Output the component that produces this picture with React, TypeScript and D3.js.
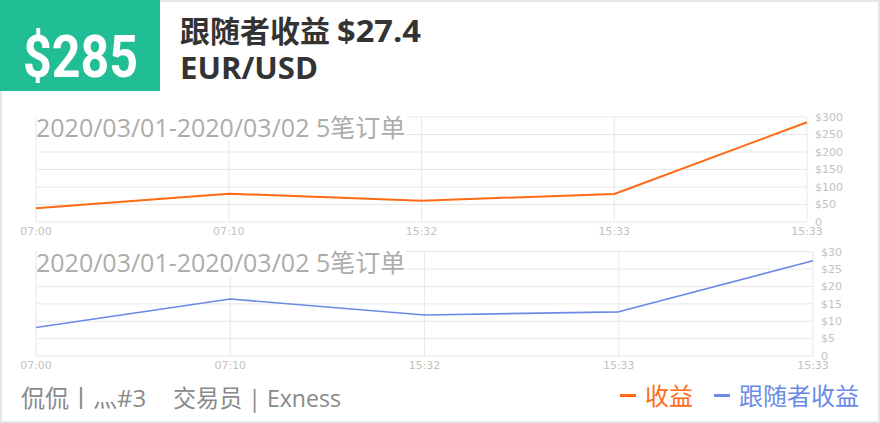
import React from "react";
import * as d3 from "d3";

const times = ["07:00", "07:10", "15:32", "15:33", "15:33"];
const profit = [39, 81, 61, 80, 285];
const followerProfit = [8.2, 16.4, 11.8, 12.7, 27.4];
const profitTicks = [0, 50, 100, 150, 200, 250, 300];
const followerTicks = [0, 5, 10, 15, 20, 25, 30];
const badgeText = "$285";
const titleLabel = "跟随者收益";
const titleValue = "$27.4";
const symbolText = "EUR/USD";
const watermarkText = "2020/03/01-2020/03/02 5笔订单";
const traderName = "侃侃丨灬#3";
const traderInfo = "交易员 | Exness";
const legendLabels = ["收益", "跟随者收益"];

const ORANGE = "#ff6a14";
const BLUE = "#6b8ae6";
const GRID = "#e8e8e8";
const AXIS_TEXT = "#c2c2c2";
const LATIN = "'Open Sans', 'Noto Sans CJK SC', sans-serif";

type PanelProps = {
  values: number[];
  ticks: number[];
  max: number;
  top: number;
  bottom: number;
  left: number;
  right: number;
  color: string;
  width: number;
};

function Panel({ values, ticks, max, top, bottom, left, right, color, width }: PanelProps) {
  const x = d3.scalePoint<number>().domain(d3.range(times.length)).range([left, right]);
  const y = d3.scaleLinear().domain([0, max]).range([bottom, top]);
  const line = d3
    .line<number>()
    .x((_, i) => x(i) as number)
    .y((d) => y(d));
  return (
    <g>
      {ticks.map((t) => (
        <line key={"h" + t} x1={left} x2={right} y1={y(t)} y2={y(t)} stroke={GRID} strokeWidth={1} />
      ))}
      {times.map((_, i) => (
        <line key={"v" + i} x1={x(i)} x2={x(i)} y1={top} y2={bottom} stroke={GRID} strokeWidth={1} />
      ))}
      <rect x={left + 1} y={top - 3} width={369} height={27} fill="#fff" />
      <text x={left} y={top + 20} fontFamily={LATIN} fontSize={25} fill="#acacac">
        {watermarkText}
      </text>
      <path d={line(values) || ""} fill="none" stroke={color} strokeWidth={width} strokeLinejoin="round" />
      {ticks.map((t) => (
        <text
          key={"yl" + t}
          x={right + 8}
          y={y(t)}
          dy="0.35em"
          fontFamily="'DejaVu Sans', sans-serif"
          fontSize={11}
          fill={AXIS_TEXT}
        >
          {t === 0 ? "0" : "$" + t}
        </text>
      ))}
      {times.map((lbl, i) => (
        <text
          key={"xl" + i}
          x={x(i)}
          y={bottom + 13}
          textAnchor="middle"
          fontFamily="'DejaVu Sans', sans-serif"
          fontSize={11}
          fill={AXIS_TEXT}
        >
          {lbl}
        </text>
      ))}
    </g>
  );
}

export default function App() {
  return (
    <div style={{ position: "absolute", left: 0, top: 0 }}>
      <svg width={880} height={423} style={{ display: "block" }}>
        <rect x={1} y={1} width={878} height={421} fill="#fff" stroke="#e6e6e6" strokeWidth={2} />
        <rect x={0} y={0} width={160} height={91} fill="#21bd94" />
        <text
          x={23}
          y={77}
          fontFamily="Roboto, sans-serif"
          fontWeight={700}
          fontSize={60}
          fill="#fff"
          textLength={115}
          lengthAdjust="spacingAndGlyphs"
        >
          {badgeText}
        </text>
        <text x={180} y={42} fontFamily={LATIN} fontWeight={700} fontSize={30} fill="#333">
          {titleLabel}
        </text>
        <text
          x={337}
          y={42}
          fontFamily={LATIN}
          fontWeight={700}
          fontSize={30}
          fill="#333"
          textLength={84}
          lengthAdjust="spacingAndGlyphs"
        >
          {titleValue}
        </text>
        <text x={180} y={79} fontFamily={LATIN} fontWeight={700} fontSize={30} fill="#333" textLength={138} lengthAdjust="spacingAndGlyphs">
          {symbolText}
        </text>

        <Panel values={profit} ticks={profitTicks} max={300} top={117} bottom={222} left={36} right={807} color={ORANGE} width={2} />
        <Panel values={followerProfit} ticks={followerTicks} max={30} top={251.7} bottom={356} left={36} right={813} color={BLUE} width={1.6} />

        <text x={21} y={407} fontFamily={LATIN} fontSize={24} fill="#8a8a8a">
          {traderName}
        </text>
        <text x={173} y={407} fontFamily={LATIN} fontSize={24} fill="#8a8a8a" textLength={168} lengthAdjust="spacingAndGlyphs">
          {traderInfo}
        </text>

        <rect x={620} y={394} width={16} height={3} fill={ORANGE} />
        <text x={645} y={405} fontFamily={LATIN} fontSize={24} fill={ORANGE}>
          {legendLabels[0]}
        </text>
        <rect x={714} y={394} width={16} height={3} fill={BLUE} />
        <text x={739} y={405} fontFamily={LATIN} fontSize={24} fill={BLUE}>
          {legendLabels[1]}
        </text>
      </svg>
    </div>
  );
}
